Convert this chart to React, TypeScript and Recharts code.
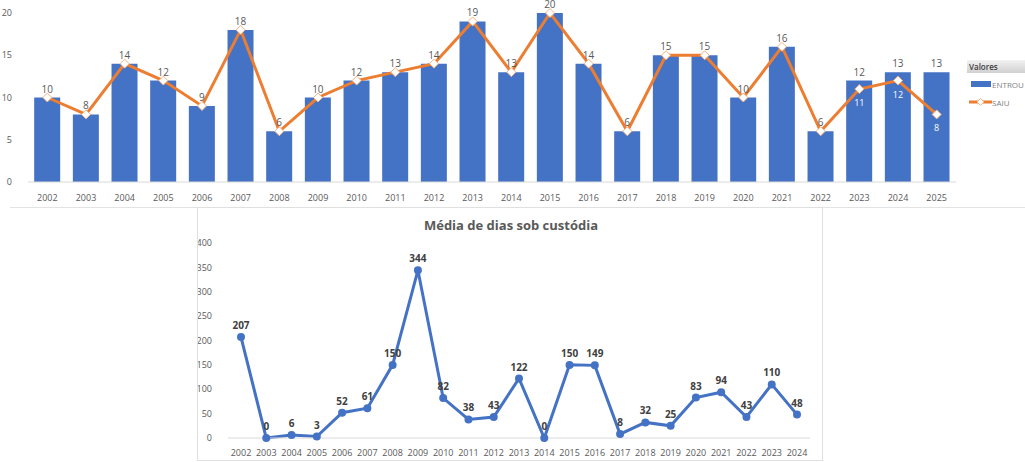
import React from "react";
import {
  ComposedChart,
  LineChart,
  Bar,
  Line,
  XAxis,
  YAxis,
  LabelList,
} from "recharts";

const years = ["2002","2003","2004","2005","2006","2007","2008","2009","2010","2011","2012","2013","2014","2015","2016","2017","2018","2019","2020","2021","2022","2023","2024","2025"];
const entrou = [10,8,14,12,9,18,6,10,12,13,14,19,13,20,14,6,15,15,10,16,6,12,13,13];
const saiu = [10,8,14,12,9,18,6,10,12,13,14,19,13,20,14,6,15,15,10,16,6,11,12,8];
const topTicks = [0,5,10,15,20];

const custodyYears = ["2002","2003","2004","2005","2006","2007","2008","2009","2010","2011","2012","2013","2014","2015","2016","2017","2018","2019","2020","2021","2022","2023","2024"];
const custodyDays = [207,0,6,3,52,61,150,344,82,38,43,122,0,150,149,8,32,25,83,94,43,110,48];
const custodyTicks = [0,50,100,150,200,250,300,350,400];

const topData = years.map((y, i) => ({ year: y, ENTROU: entrou[i], SAIU: saiu[i] }));
const bottomData = custodyYears.map((y, i) => ({ year: y, dias: custodyDays[i] }));

const BLUE = "#4472C4";
const ORANGE = "#ED7D31";
const FONT = "'Open Sans', 'Liberation Sans', sans-serif";

const Diamond = (props: any) => {
  const { cx, cy } = props;
  if (cx == null || cy == null) return null;
  const r = 4.5;
  return (
    <path
      d={`M${cx},${cy - r} L${cx + r},${cy} L${cx},${cy + r} L${cx - r},${cy} Z`}
      fill="#fff"
      stroke="#F4B183"
      strokeWidth={1}
    />
  );
};

const SaiuLabel = (props: any) => {
  const { x, y, value, index } = props;
  if (value === entrou[index]) return null;
  return (
    <text x={x} y={y + 17} textAnchor="middle" fill="#ffffff" fontSize={9} fontFamily={FONT}>
      {value}
    </text>
  );
};

const TopLegend = () => (
  <div style={{ fontFamily: FONT, width: 58 }}>
    <div
      style={{
        background: "linear-gradient(#f2f2f2, #d0d0d0)",
        fontSize: 8,
        fontWeight: 600,
        color: "#404040",
        padding: "1px 2px",
        height: 11,
        lineHeight: "11px",
      }}
    >
      Valores
    </div>
    <div style={{ display: "flex", alignItems: "center", marginTop: 5, height: 12 }}>
      <div style={{ width: 20, height: 6, background: BLUE, marginLeft: 4 }} />
      <span style={{ fontSize: 8, color: "#7f7f7f", marginLeft: 1 }}>ENTROU</span>
    </div>
    <div style={{ display: "flex", alignItems: "center", marginTop: 6, height: 12 }}>
      <svg width={23} height={8} style={{ marginLeft: 2 }}>
        <line x1={0} y1={4} x2={23} y2={4} stroke={ORANGE} strokeWidth={3} />
        <path d="M11.5,0.5 L15,4 L11.5,7.5 L8,4 Z" fill="#fff" stroke="#F4B183" />
      </svg>
      <span style={{ fontSize: 8, color: "#7f7f7f", marginLeft: 0 }}>SAIU</span>
    </div>
  </div>
);

export default function App() {
  return (
    <div style={{ position: "absolute", left: 0, top: 0, width: 1025, height: 462, background: "#fff", fontFamily: FONT, overflow: "hidden" }}>
      <div style={{ position: "absolute", left: 0, top: 0 }}>
        <ComposedChart
          width={1025}
          height={210}
          data={topData}
          margin={{ top: 13, right: 69, bottom: 8, left: 0 }}
          barCategoryGap="16%"
        >
          <XAxis
            dataKey="year"
            tickLine={false}
            axisLine={{ stroke: "#d9d9d9" }}
            tick={{ fontSize: 9, fill: "#595959", fontFamily: FONT }}
            tickMargin={7}
            height={20}
            interval={0}
          />
          <YAxis
            domain={[0, 20]}
            ticks={topTicks}
            axisLine={false}
            tickLine={false}
            tick={{ fontSize: 9, fill: "#595959", fontFamily: FONT }}
            width={28}
            tickMargin={10}
          />
          <Bar dataKey="ENTROU" fill={BLUE} isAnimationActive={false}>
            <LabelList dataKey="ENTROU" position="top" offset={5} fill="#595959" fontSize={10} fontFamily={FONT} />
          </Bar>
          <Line
            dataKey="SAIU"
            stroke={ORANGE}
            strokeWidth={3}
            dot={<Diamond />}
            activeDot={false}
            isAnimationActive={false}
          >
            <LabelList dataKey="SAIU" content={<SaiuLabel />} />
          </Line>
        </ComposedChart>
      </div>
      <div style={{ position: "absolute", left: 967, top: 60 }}>
        <TopLegend />
      </div>
      <div style={{ position: "absolute", left: 10, top: 207, width: 1015, height: 1, background: "#e3e3e3" }} />
      <div
        style={{
          position: "absolute",
          left: 197,
          top: 207,
          width: 626,
          height: 254,
          boxSizing: "border-box",
          border: "1px solid #e0e0e0",
        }}
      >
        <div
          style={{
            position: "absolute",
            left: 0,
            top: 8,
            width: 626,
            textAlign: "center",
            fontSize: 13,
            fontWeight: 700,
            color: "#595959",
            fontFamily: FONT,
          }}
        >
          Média de dias sob custódia
        </div>
        <LineChart
          width={624}
          height={252}
          data={bottomData}
          margin={{ top: 35, right: 12, bottom: 6, left: 0 }}
        >
          <XAxis
            dataKey="year"
            tickLine={false}
            axisLine={{ stroke: "#d9d9d9" }}
            tick={{ fontSize: 9, fill: "#595959", fontFamily: FONT }}
            tickMargin={6}
            height={16}
            interval={0}
            padding={{ left: 13, right: 13 }}
          />
          <YAxis
            domain={[0, 400]}
            ticks={custodyTicks}
            axisLine={false}
            tickLine={false}
            tick={{ fontSize: 9, fill: "#595959", fontFamily: FONT }}
            width={30}
            tickMargin={10}
          />
          <Line
            dataKey="dias"
            stroke={BLUE}
            strokeWidth={3}
            dot={{ r: 2.5, fill: BLUE, stroke: BLUE }}
            activeDot={false}
            isAnimationActive={false}
          >
            <LabelList dataKey="dias" position="top" offset={8} fill="#404040" fontSize={10} fontWeight={700} fontFamily={FONT} />
          </Line>
        </LineChart>
      </div>
    </div>
  );
}
